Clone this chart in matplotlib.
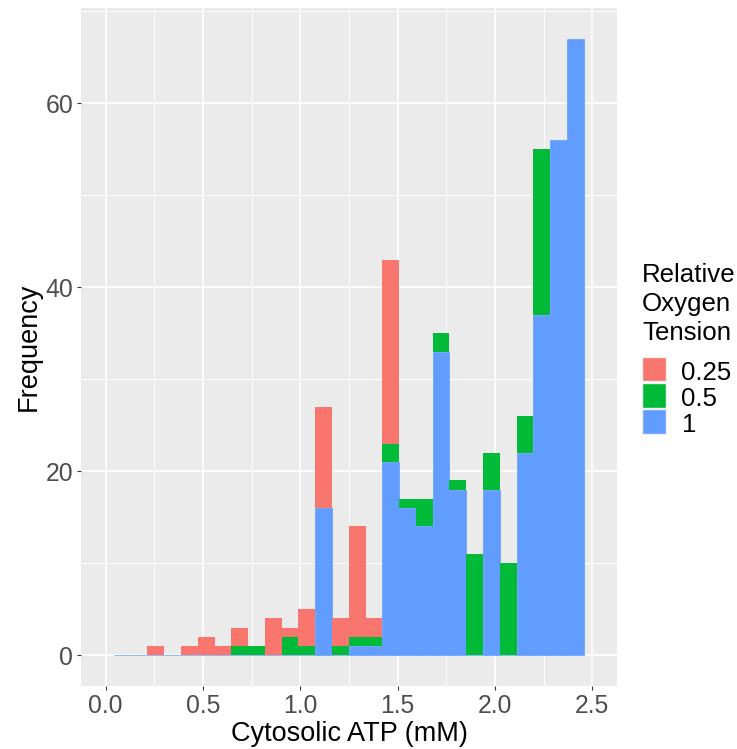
import numpy as np
import matplotlib
matplotlib.use("Agg")
import matplotlib.pyplot as plt
from matplotlib.patches import Rectangle
from matplotlib.ticker import MultipleLocator

plt.rcParams['font.family'] = ['Liberation Sans', 'DejaVu Sans']

# Histogram bins (Cytosolic ATP, mM)
bin_start = 0.043
bin_width = 0.08616
n_bins = 28

# Counts per bin for each relative oxygen tension
groups = ["0.25", "0.5", "1"]
colors = {"0.25": "#F8766D", "0.5": "#00BA38", "1": "#619CFF"}
count_025 = [0, 0, 1, 0, 1, 2, 1, 2, 0, 4, 1, 4, 11, 3, 12, 2, 20,
             0, 0, 0, 0, 0, 0, 0, 0, 0, 0, 0]
count_05 = [0, 0, 0, 0, 0, 0, 0, 1, 1, 0, 2, 1, 0, 1, 1, 1, 2,
            1, 3, 2, 1, 11, 4, 10, 4, 18, 0, 0]
count_1 = [0, 0, 0, 0, 0, 0, 0, 0, 0, 0, 0, 0, 16, 0, 1, 1, 21,
           16, 14, 33, 18, 0, 18, 0, 22, 37, 56, 67]

x_ticks = [0.0, 0.5, 1.0, 1.5, 2.0, 2.5]
x_ticklabels = ["0.0", "0.5", "1.0", "1.5", "2.0", "2.5"]
y_ticks = [0, 20, 40, 60]
y_ticklabels = ["0", "20", "40", "60"]

W, H = 737, 749
fig = plt.figure(figsize=(W / 100, H / 100), dpi=100)
ax = fig.add_axes([81 / W, 1 - 686 / H, 536 / W, 678 / H])

lefts = bin_start + bin_width * np.arange(n_bins)
c1 = np.array(count_1, dtype=float)
c05 = np.array(count_05, dtype=float)
c025 = np.array(count_025, dtype=float)

# stacked histogram: 1 at the bottom, then 0.5, then 0.25
ax.bar(lefts, c1, width=bin_width, align='edge', color=colors["1"],
       edgecolor=colors["1"], linewidth=0.5, zorder=2)
ax.bar(lefts, c05, bottom=c1, width=bin_width, align='edge',
       color=colors["0.5"], linewidth=0, zorder=2)
ax.bar(lefts, c025, bottom=c1 + c05, width=bin_width, align='edge',
       color=colors["0.25"], linewidth=0, zorder=2)

ax.set_xlim(-0.126, 2.627)
ax.set_ylim(-3.35, 70.35)

ax.set_facecolor("#EBEBEB")
for s in ax.spines.values():
    s.set_visible(False)
ax.set_xticks(x_ticks)
ax.set_xticklabels(x_ticklabels)
ax.set_yticks(y_ticks)
ax.set_yticklabels(y_ticklabels)
ax.xaxis.set_minor_locator(MultipleLocator(0.25))
ax.yaxis.set_minor_locator(MultipleLocator(10))
ax.grid(which='major', color='white', linewidth=1.2, zorder=0)
ax.grid(which='minor', color='white', linewidth=0.65, zorder=0)
ax.set_axisbelow(True)
ax.tick_params(which='major', length=2.6, width=0.8, color='#333333',
               labelsize=17.8, labelcolor='#4D4D4D', pad=3)
ax.tick_params(which='minor', length=0)

ax.set_xlabel("Cytosolic ATP (mM)", fontsize=19.5, color='black', labelpad=2)
ax.set_ylabel("Frequency", fontsize=19.5, color='black', labelpad=3)


def fx(px):
    return px / W


def fy(py):
    return 1 - py / H


# legend
for line, base in zip(["Relative", "Oxygen", "Tension"], [282.3, 311.0, 339.7]):
    fig.text(fx(642), fy(base), line, fontsize=18.6, va='baseline', ha='left')

key_top = 356.7
key_pitch = 26.2
key_h = 24.6
for i, g in enumerate(groups):
    top = key_top + i * key_pitch
    fig.add_artist(Rectangle((fx(641.7), fy(top + key_h)), 24.3 / W, key_h / H,
                             transform=fig.transFigure, facecolor=colors[g],
                             edgecolor='#F2F2F2', linewidth=1.0))
    fig.text(fx(681.5), fy(top + key_h / 2 + 11), g, fontsize=18.6,
             va='baseline', ha='left')

fig.savefig("out.png", dpi=100)
